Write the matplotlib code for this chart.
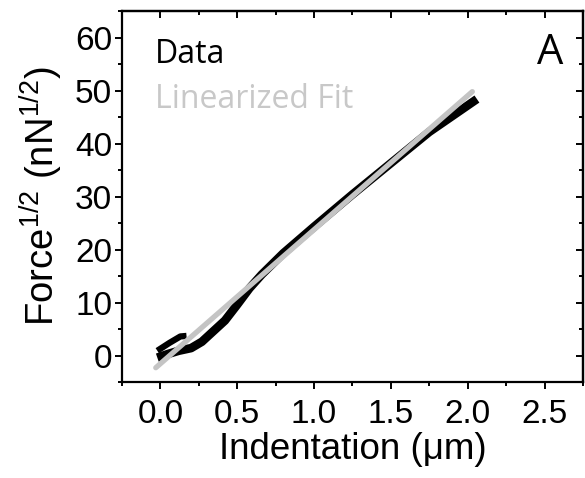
import matplotlib

matplotlib.use("Agg")
import matplotlib.pyplot as plt
from matplotlib.ticker import MultipleLocator

data_x = [-0.02, 0.05, 0.12, 0.2, 0.27, 0.33, 0.42, 0.5, 0.58, 0.66, 0.8, 1.0,
          1.25, 1.5, 1.75, 2.06]
data_y = [-0.4, 0.3, 0.9, 1.4, 2.6, 4.2, 6.6, 9.6, 12.7, 15.3, 19.3, 24.3,
          30.4, 36.3, 42.2, 48.4]
# early noisy branch of the data trace
branch_x = [-0.02, 0.06, 0.13, 0.17]
branch_y = [0.9, 2.4, 3.6, 3.7]
# linearized fit end points
fit_x = [-0.03, 2.03]
fit_y = [-2.3, 49.8]

plt.rcParams.update({"font.family": ["Liberation Sans", "DejaVu Sans"],
                     "mathtext.fontset": "custom",
                     "mathtext.rm": "Liberation Sans"})

fig = plt.figure(figsize=(5.85, 4.78), dpi=100)
ax = fig.add_axes([0.2085, 0.2008, 0.788, 0.776])

ax.plot(data_x, data_y, color="black", lw=6.2, solid_capstyle="butt", zorder=2)
ax.plot(branch_x, branch_y, color="black", lw=4.5, solid_capstyle="butt", zorder=2)
ax.plot(fit_x, fit_y, color="#c4c4c4", lw=3.8, solid_capstyle="round", zorder=3)

ax.set_xlim(-0.25, 2.75)
ax.set_ylim(-5, 65)
ax.xaxis.set_major_locator(MultipleLocator(0.5))
ax.xaxis.set_minor_locator(MultipleLocator(0.25))
ax.yaxis.set_major_locator(MultipleLocator(10))
ax.yaxis.set_minor_locator(MultipleLocator(5))
ax.xaxis.set_major_formatter(lambda v, p: f"{v:.1f}")
ax.yaxis.set_major_formatter(lambda v, p: f"{v:.0f}")

for s in ax.spines.values():
    s.set_linewidth(1.6)
ax.tick_params(which="both", direction="out", width=1.4, labelsize=24, pad=2,
               top=False, right=False)
ax.tick_params(axis="x", which="major", pad=7)
ax.tick_params(which="major", length=5)
ax.tick_params(which="minor", length=3)
# mirrored inward ticks on top and right
ax2 = ax.secondary_xaxis("top")
ax2.xaxis.set_major_locator(MultipleLocator(0.5))
ax2.xaxis.set_minor_locator(MultipleLocator(0.25))
ax2.tick_params(which="both", direction="in", width=1.4, labeltop=False)
ax2.tick_params(which="major", length=5)
ax2.tick_params(which="minor", length=3)
ax2.spines["top"].set_linewidth(1.6)
ax3 = ax.secondary_yaxis("right")
ax3.yaxis.set_major_locator(MultipleLocator(10))
ax3.yaxis.set_minor_locator(MultipleLocator(5))
ax3.tick_params(which="both", direction="in", width=1.4, labelright=False)
ax3.tick_params(which="major", length=5)
ax3.tick_params(which="minor", length=3)
ax3.spines["right"].set_linewidth(1.6)

ax.set_xlabel("Indentation (\u03bcm)", fontsize=26.5, labelpad=2)
ax.set_ylabel("Force$^{1/2}$ (nN$^{1/2}$)", fontsize=27.5, labelpad=7)

ax.text(0.072, 0.86, "Data", transform=ax.transAxes, fontsize=23,
        family=["Open Sans", "DejaVu Sans"], color="black", va="baseline")
ax.text(0.072, 0.738, "Linearized Fit", transform=ax.transAxes, fontsize=23,
        family=["Open Sans", "DejaVu Sans"], color="#c8c8c8", va="baseline")
ax.text(0.957, 0.857, "A", transform=ax.transAxes, fontsize=30,
        family=["Open Sans", "DejaVu Sans"], ha="right", va="baseline")

fig.savefig("out.png", dpi=100)
